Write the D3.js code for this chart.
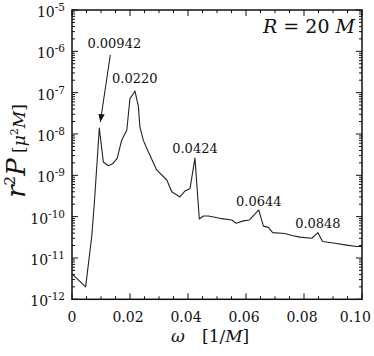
<!DOCTYPE html>
<html><head><meta charset="utf-8">
<script src="https://cdn.jsdelivr.net/npm/d3@7"></script>
<style>body{margin:0;background:#fff}svg{display:block}text{font-family:"DejaVu Serif",serif;fill:#111}</style>
</head><body><svg id="c" width="374" height="356"></svg>
<script>
const omega = [0, 0.0047, 0.0068, 0.0077, 0.00942, 0.0108, 0.0125, 0.014, 0.0156, 0.0171, 0.0189, 0.0200, 0.0209, 0.0217, 0.0229, 0.0234, 0.0246, 0.0263, 0.0292, 0.0327, 0.0344, 0.0372, 0.0390, 0.0407, 0.0424, 0.0439, 0.0453, 0.0470, 0.0510, 0.0551, 0.0566, 0.0591, 0.0612, 0.0644, 0.0660, 0.0677, 0.0692, 0.0734, 0.0758, 0.0786, 0.0827, 0.0848, 0.0864, 0.0901, 0.0947, 0.0982, 0.1];
const power = [4.1e-12, 2.0e-12, 3.3e-11, 2.1e-10, 1.4e-8, 2.1e-9, 1.7e-9, 1.9e-9, 2.6e-9, 7e-9, 1.25e-8, 7.3e-8, 8.8e-8, 1.1e-7, 4.6e-8, 1.5e-8, 7e-9, 3.7e-9, 1.35e-9, 7.7e-10, 4e-10, 3e-10, 4.2e-10, 4.8e-10, 2.6e-9, 8.8e-11, 1.04e-10, 1.04e-10, 9.1e-11, 8.3e-11, 6.9e-11, 7.9e-11, 8.3e-11, 1.45e-10, 5.9e-11, 5.5e-11, 4.1e-11, 3.9e-11, 3.5e-11, 3.2e-11, 3.0e-11, 4.1e-11, 2.5e-11, 2.3e-11, 2.05e-11, 1.9e-11, 1.9e-11];
const xTicks = [0, 0.02, 0.04, 0.06, 0.08, 0.10];
const xTickLabels = ["0", "0.02", "0.04", "0.06", "0.08", "0.10"];
const yExponents = [-5, -6, -7, -8, -9, -10, -11, -12];
const peakOmega = [0.00942, 0.0220, 0.0424, 0.0644, 0.0848];
const peakLabels = ["0.00942", "0.0220", "0.0424", "0.0644", "0.0848"];
const peakLabelPower = [1.2e-6, 1.7e-7, 3.5e-9, 1.8e-10, 5.3e-11];

const svg = d3.select("#c");
const L = 72, R = 362, T = 10, B = 299.3;
const x = d3.scaleLinear().domain([0, 0.1]).range([L, R]);
const y = d3.scaleLog().domain([1e-12, 1e-5]).range([B, T]);

// ticks
const g = svg.append("g").attr("stroke", "#111").attr("stroke-width", 1);
const minorX = d3.range(0, 0.1001, 0.005);
minorX.forEach((v, i) => {
  const major = i % 4 === 0;
  const len = major ? 6 : 3;
  g.append("line").attr("x1", x(v)).attr("x2", x(v)).attr("y1", B).attr("y2", B - len);
  g.append("line").attr("x1", x(v)).attr("x2", x(v)).attr("y1", T).attr("y2", T + len);
});
for (let e = -12; e <= -5; e++) {
  for (let m = 1; m <= 9; m++) {
    const v = m * Math.pow(10, e);
    if (v > 1e-5 * 1.0001) break;
    const len = m === 1 ? 6 : 3;
    g.append("line").attr("x1", L).attr("x2", L + len).attr("y1", y(v)).attr("y2", y(v));
    g.append("line").attr("x1", R).attr("x2", R - len).attr("y1", y(v)).attr("y2", y(v));
  }
}
svg.append("rect").attr("x", L).attr("y", T).attr("width", R - L).attr("height", B - T)
  .attr("fill", "none").attr("stroke", "#111").attr("stroke-width", 1.5);

// x tick labels
xTicks.forEach((v, i) => {
  const last = i === xTicks.length - 1;
  svg.append("text").attr("x", last ? 371 : x(v) - (i === 0 ? 0 : 2)).attr("y", B + 23)
    .attr("text-anchor", last ? "end" : "middle")
    .attr("font-size", 14).text(xTickLabels[i]);
});
// y tick labels
yExponents.forEach(e => {
  const t = svg.append("text").attr("x", 65).attr("y", y(Math.pow(10, e)) + 7)
    .attr("text-anchor", "end").attr("font-size", 14);
  t.append("tspan").text("10");
  t.append("tspan").attr("dy", -6).attr("font-size", 10.5).text(String(e));
});

// curve
const line = d3.line().x((d, i) => x(omega[i])).y((d, i) => y(power[i]));
svg.append("path").datum(power).attr("d", line).attr("fill", "none")
  .attr("stroke", "#222").attr("stroke-width", 1.1).attr("stroke-linejoin", "round");

// peak labels
peakOmega.forEach((w, i) => {
  let cx = x(w);
  if (i === 0) cx = x(w) + 15;
  if (i === 1) cx = x(w) - 1;
  svg.append("text").attr("x", cx).attr("y", y(peakLabelPower[i])).attr("text-anchor", "middle")
    .attr("font-size", 13).text(peakLabels[i]);
});
// arrow
svg.append("defs").append("marker").attr("id", "ah").attr("viewBox", "0 0 10 10")
  .attr("refX", 10).attr("refY", 5).attr("markerWidth", 8).attr("markerHeight", 8)
  .attr("markerUnits", "userSpaceOnUse").attr("orient", "auto")
  .append("path").attr("d", "M0,1 L10,5 L0,9 z").attr("fill", "#111");
svg.append("line").attr("x1", x(peakOmega[0]) + 11).attr("y1", 55)
  .attr("x2", x(peakOmega[0]) + 1).attr("y2", y(power[4]) - 6)
  .attr("stroke", "#111").attr("stroke-width", 1).attr("marker-end", "url(#ah)");

// R = 20 M
const rt = svg.append("text").attr("x", 355).attr("y", 33).attr("text-anchor", "end").attr("font-size", 19);
rt.append("tspan").attr("font-style", "italic").text("R");
rt.append("tspan").text(" = 20 ");
rt.append("tspan").attr("font-style", "italic").text("M");

// x axis label
svg.append("text").attr("x", 178).attr("y", 342).attr("text-anchor", "middle")
  .attr("font-size", 17).attr("font-style", "italic").text("ω");
const xl = svg.append("text").attr("x", 202).attr("y", 342).attr("font-size", 17);
xl.append("tspan").text("[1/");
xl.append("tspan").attr("font-style", "italic").text("M");
xl.append("tspan").text("]");

// y axis label
const yl = svg.append("text").attr("transform", "translate(25,151) rotate(-90)")
  .attr("text-anchor", "middle").attr("font-size", 26);
yl.append("tspan").attr("font-style", "italic").text("r");
yl.append("tspan").attr("dy", -10).attr("font-size", 15).text("2");
yl.append("tspan").attr("dy", 10).attr("font-style", "italic").text("P");
yl.append("tspan").attr("font-size", 17).text(" [");
yl.append("tspan").attr("font-size", 17).attr("font-style", "italic").text("μ");
yl.append("tspan").attr("dy", -7).attr("font-size", 11).text("2");
yl.append("tspan").attr("dy", 7).attr("font-size", 17).attr("font-style", "italic").text("M");
yl.append("tspan").attr("font-size", 17).text("]");
</script></body></html>
